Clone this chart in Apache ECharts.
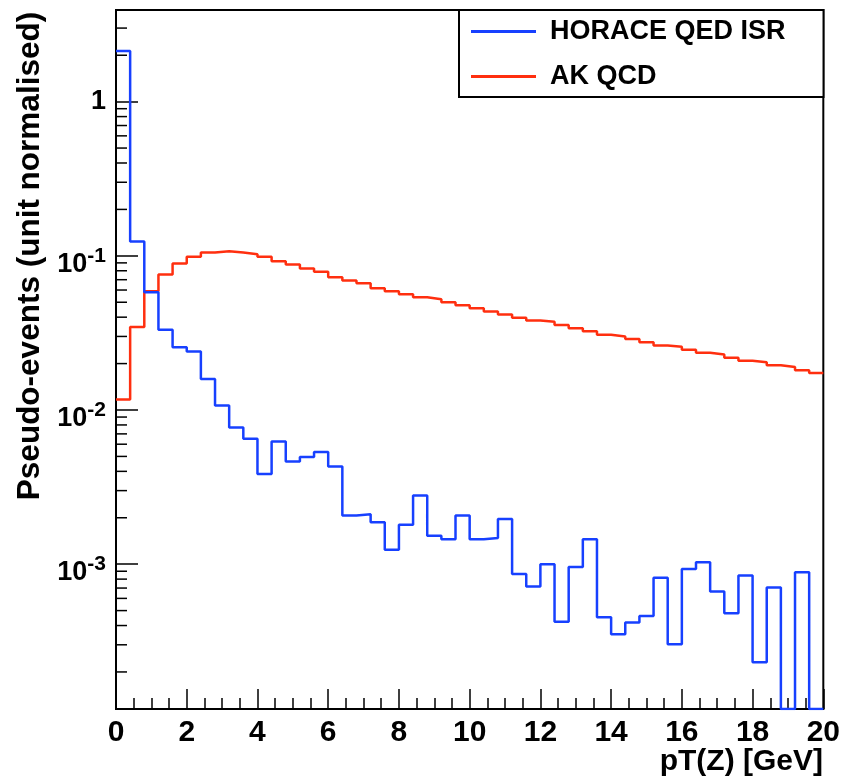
<!DOCTYPE html>
<html lang="en">
<head>
<meta charset="UTF-8">
<title>pT(Z)</title>
<script src="https://cdn.jsdelivr.net/npm/echarts@6/dist/echarts.min.js"></script>
<style>html,body{margin:0;padding:0;background:#fff;}</style>
</head>
<body>
<div id="dv" style="width:843px;height:783px;"></div>
<script>
// histogram bins: 50 bins of 0.4 GeV from 0 to 20
var binWidth = 0.4;
var seriesNames = ['HORACE QED ISR', 'AK QCD'];

var horace = [
    2.13, 0.124, 0.058, 0.0332, 0.0255, 0.024, 0.0159, 0.0107, 0.0077, 0.00651,
    0.00384, 0.00625, 0.00464, 0.00495, 0.00534, 0.0043, 0.00207, 0.00211, 0.00187, 0.00124,
    0.0018, 0.00279, 0.00153, 0.00145, 0.00207, 0.00145, 0.00148, 0.00196, 0.000865, 0.000716,
    0.001, 0.000424, 0.000957, 0.00145, 0.000453, 0.000351, 0.000418, 0.000461, 0.000818, 0.000303,
    0.000929, 0.00103, 0.000664, 0.000481, 0.000844, 0.000231, 0.000705, 0, 0.000887, 0
];
var akqcd = [
    0.0117, 0.0346, 0.059, 0.0756, 0.0891, 0.0986, 0.105, 0.107, 0.105, 0.1025,
    0.0986, 0.0922, 0.0878, 0.0827, 0.0787, 0.0727, 0.0691, 0.0664, 0.0616, 0.0589,
    0.0563, 0.0538, 0.0523, 0.050, 0.0478, 0.0457, 0.0435, 0.0416, 0.0397, 0.038,
    0.0373, 0.0356, 0.0339, 0.0324, 0.0308, 0.030, 0.0289, 0.0275, 0.0262, 0.0257,
    0.0246, 0.0235, 0.0229, 0.0218, 0.0209, 0.0204, 0.0195, 0.019, 0.0181, 0.0174
];

var yMin = 1.15e-4;
var yMax = 3.93;
var font = 'Liberation Sans, Arial, Helvetica, sans-serif';

// empty bins sit on the axis floor, like ROOT does
function stepData(vals) {
    var out = [];
    vals.forEach(function (v, i) {
        out.push([i * binWidth, Math.max(v, yMin)]);
    });
    out.push([vals.length * binWidth, Math.max(vals[vals.length - 1], yMin)]);
    return out;
}

// log minor ticks 2..9 x 10^n
var yMinor = [];
for (var e = -4; e <= 0; e++) {
    for (var m = 2; m <= 9; m++) {
        var v = m * Math.pow(10, e);
        if (v > yMin && v < yMax) yMinor.push([0, v]);
    }
}

var myChart = echarts.init(document.getElementById('dv'));
var option = {
    backgroundColor: '#fff',
    animation: false,
    grid: {
        left: 116, right: 19, top: 10, bottom: 74,
        show: true, borderColor: '#000', borderWidth: 2
    },
    legend: {
        data: seriesNames,
        orient: 'vertical',
        left: 459, top: 10,
        icon: 'rect',
        itemWidth: 65, itemHeight: 3,
        itemGap: 18,
        padding: [8, 38, 7, 12],
        borderColor: '#000', borderWidth: 2, borderRadius: 0,
        backgroundColor: '#fff',
        selectedMode: false,
        textStyle: {
            fontSize: 27, fontWeight: 'bold', color: '#000', fontFamily: font,
            padding: [0, 0, 0, 9]
        }
    },
    xAxis: {
        type: 'value', min: 0, max: 20, interval: 2,
        axisLine: { lineStyle: { color: '#000', width: 2 } },
        axisTick: { inside: true, length: 20, lineStyle: { color: '#000', width: 1.5 } },
        minorTick: { show: true, splitNumber: 4, length: 11, lineStyle: { color: '#000', width: 1.5 } },
        splitLine: { show: false },
        axisLabel: { margin: 9, fontSize: 30, fontWeight: 'bold', color: '#000', fontFamily: font }
    },
    yAxis: {
        type: 'log', logBase: 10, min: yMin, max: yMax,
        axisLine: { show: true, lineStyle: { color: '#000', width: 2 } },
        axisTick: { inside: true, length: 22, lineStyle: { color: '#000', width: 1.5 } },
        splitLine: { show: false },
        axisLabel: {
            margin: 10,
            color: '#000',
            formatter: function (val) {
                var ex = Math.log10(val);
                var r = Math.round(ex);
                if (Math.abs(ex - r) > 1e-6) return '';
                if (r === 0) return '{one|1}';
                return '{h| }{b|10}{s|' + r + '}';
            },
            rich: {
                one: { fontSize: 27, fontWeight: 'bold', color: '#000', fontFamily: font, lineHeight: 27 },
                h: { fontSize: 2, lineHeight: 44 },
                b: { fontSize: 27, fontWeight: 'bold', color: '#000', fontFamily: font, lineHeight: 27, verticalAlign: 'bottom' },
                s: { fontSize: 21, fontWeight: 'bold', color: '#000', fontFamily: font, lineHeight: 21, verticalAlign: 'middle' }
            }
        }
    },
    graphic: [
        {
            type: 'text', x: 30, y: 256, rotation: Math.PI / 2,
            style: {
                text: 'Pseudo-events (unit normalised)',
                fontSize: 31.5, fontWeight: 'bold', fontFamily: font, fill: '#000',
                textAlign: 'center', textVerticalAlign: 'middle'
            }
        },
        {
            type: 'text', x: 823, y: 762,
            style: {
                text: 'pT(Z) [GeV]',
                fontSize: 30, fontWeight: 'bold', fontFamily: font, fill: '#000',
                textAlign: 'right', textVerticalAlign: 'middle'
            }
        }
    ],
    series: [
        {
            name: seriesNames[1],
            type: 'line', step: 'end', symbol: 'none',
            itemStyle: { color: '#ff2f0f' },
            lineStyle: { color: '#ff2f0f', width: 2.5 },
            data: stepData(akqcd),
            z: 3
        },
        {
            name: seriesNames[0],
            type: 'line', step: 'end', symbol: 'none',
            itemStyle: { color: '#1740ff' },
            lineStyle: { color: '#1740ff', width: 2.5 },
            data: stepData(horace),
            z: 4
        },
        {
            name: 'yminor',
            type: 'custom', silent: true,
            data: yMinor,
            encode: { x: 0, y: 1 },
            renderItem: function (params, api) {
                var p = api.coord([0, api.value(1)]);
                return {
                    type: 'line',
                    shape: { x1: p[0], y1: p[1], x2: p[0] + 11, y2: p[1] },
                    style: { stroke: '#000', lineWidth: 1.5 }
                };
            },
            z: 5
        }
    ]
};
myChart.setOption(option);
</script>
</body>
</html>
